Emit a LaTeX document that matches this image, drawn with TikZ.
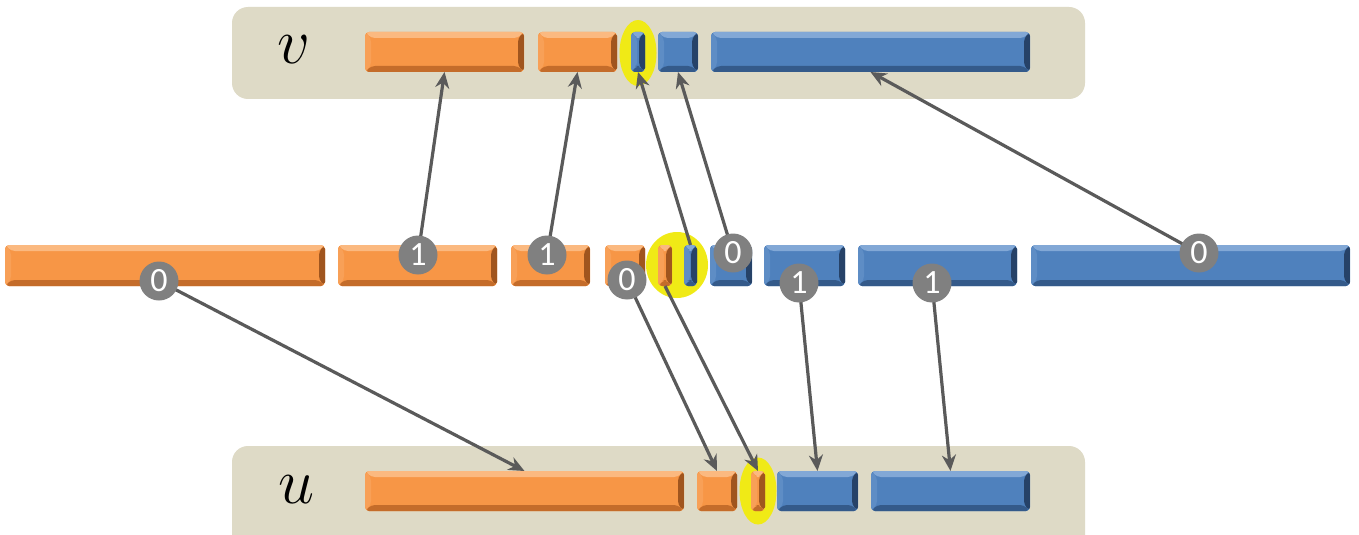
\documentclass[tikz,border=0pt]{standalone}
\usepackage{fontspec}
\newfontfamily\numfont{Carlito}
\usetikzlibrary{arrows.meta,fit,calc,shapes.geometric}
\definecolor{tan}{RGB}{222,218,198}
\definecolor{om}{RGB}{247,150,70}
\definecolor{ol}{RGB}{251,185,128}
\definecolor{od}{RGB}{196,108,42}
\definecolor{odd}{RGB}{160,85,30}
\definecolor{bm}{RGB}{79,129,189}
\definecolor{bl}{RGB}{130,168,214}
\definecolor{bd}{RGB}{52,90,138}
\definecolor{bdd}{RGB}{38,66,104}
\definecolor{yel}{RGB}{240,234,22}
\definecolor{cgray}{RGB}{128,128,128}
\definecolor{agray}{RGB}{90,90,90}
\newcommand\bevelpic[4]{%
  \path (path picture bounding box.north west) coordinate (P1)
        (path picture bounding box.south east) coordinate (P2);
  \fill[#1] (P1) -- (P1 -| P2) -- ($(P1 -| P2)+(-3pt,-3pt)$) -- ($(P1)+(3pt,-3pt)$) -- cycle;
  \fill[#2] (P1) -- (P1 |- P2) -- ($(P1 |- P2)+(3pt,3pt)$) -- ($(P1)+(3pt,-3pt)$) -- cycle;
  \fill[#3] (P1 |- P2) -- (P2) -- ($(P2)+(-3pt,3pt)$) -- ($(P1 |- P2)+(3pt,3pt)$) -- cycle;
  \fill[#4] (P1 -| P2) -- (P2) -- ($(P2)+(-3pt,3pt)$) -- ($(P1 -| P2)+(-3pt,-3pt)$) -- cycle;
}
\tikzset{
  panel/.style={fill=tan, rounded corners=8pt, inner sep=0pt, draw=none},
  barbase/.style={rectangle, rounded corners=2pt, inner sep=0pt, outer sep=0pt, draw=none},
  obar/.style={barbase, fill=om, path picture={\bevelpic{ol}{om!70!ol}{od}{odd}}},
  bbar/.style={barbase, fill=bm, path picture={\bevelpic{bl}{bm!70!bl}{bd}{bdd}}},
  hl/.style={ellipse, fill=yel, inner sep=0pt, draw=none},
  num/.style={circle, fill=cgray, text=white, minimum size=19.5pt, inner sep=0pt,
    font=\numfont\fontsize{17}{17}\selectfont},
  arr/.style={draw=agray, line width=1.6pt, -{Stealth[length=8pt,width=7pt]}},
  lab/.style={font=\Huge, scale=1.3}
}
\newcommand\mybar[6][obar]{\node[#1, fit={(#3,#4) (#5,#6)}] (#2) {};}
\begin{document}
\begin{tikzpicture}[x=0.5pt,y=-0.5pt]
\clip (0,0) rectangle (1359,535);
\fill[white] (0,0) rectangle (1359,535);
% panels
\node[panel, fit={(232,7) (1085,99)}] (vp) {};
\node[panel, fit={(232,446) (1085,570)}] (up) {};
\node[lab] (vl) at (294,50) {$v$};
\node[lab] (ul) at (297,490) {$u$};
% highlights
\node[hl, minimum width=18.5pt, minimum height=33pt] (e1) at (638,53) {};
\node[hl, minimum width=31pt, minimum height=33pt] (e2) at (677,265) {};
\node[hl, minimum width=18.5pt, minimum height=33.5pt] (e3) at (758,491) {};
% v row
\mybar{vo1}{365}{32}{524}{72}
\mybar{vo2}{538}{32}{617}{72}
\mybar[bbar]{vb1}{631}{32}{645}{72}
\mybar[bbar]{vb2}{658}{32}{698}{72}
\mybar[bbar]{vb3}{711}{32}{1030}{72}
% middle row
\mybar{mo1}{5}{245}{325}{286}
\mybar{mo2}{338}{245}{497}{286}
\mybar{mo3}{511}{245}{590}{286}
\mybar{mo4}{605}{245}{645}{286}
\mybar{mo5}{658}{245}{672}{286}
\mybar[bbar]{mb1}{684}{245}{697}{286}
\mybar[bbar]{mb2}{710}{245}{752}{286}
\mybar[bbar]{mb3}{764}{245}{845}{286}
\mybar[bbar]{mb4}{858}{245}{1017}{286}
\mybar[bbar]{mb5}{1031}{245}{1350}{286}
% u row
\mybar{uo1}{365}{471}{684}{511}
\mybar{uo2}{697}{471}{737}{511}
\mybar{uo3}{751}{471}{765}{511}
\mybar[bbar]{ub1}{777}{471}{858}{511}
\mybar[bbar]{ub2}{871}{471}{1030}{511}
% number circles (positions)
\path (159,281) coordinate (p1) (418,255) coordinate (p2) (547,255) coordinate (p3)
      (627,280) coordinate (p4) (733,253) coordinate (p5) (799,283) coordinate (p6)
      (932,283) coordinate (p7) (1199,253) coordinate (p8);
% arrows
\draw[arr] (p2) -- (vo1.south);
\draw[arr] (p3) -- (vo2.south);
\draw[arr] (mb1.north) -- (vb1.south);
\draw[arr] (p5) -- (vb2.south);
\draw[arr] (p8) -- (vb3.south);
\draw[arr] (p1) -- (uo1.north);
\draw[arr] (p4) -- (uo2.north);
\draw[arr] (mo5.south) -- (uo3.north);
\draw[arr] (p6) -- (ub1.north);
\draw[arr] (p7) -- (ub2.north);
% circles
\node[num] (c1) at (p1) {0};
\node[num] (c2) at (p2) {1};
\node[num] (c3) at (p3) {1};
\node[num] (c4) at (p4) {0};
\node[num] (c5) at (p5) {0};
\node[num] (c6) at (p6) {1};
\node[num] (c7) at (p7) {1};
\node[num] (c8) at (p8) {0};
\end{tikzpicture}
\end{document}
